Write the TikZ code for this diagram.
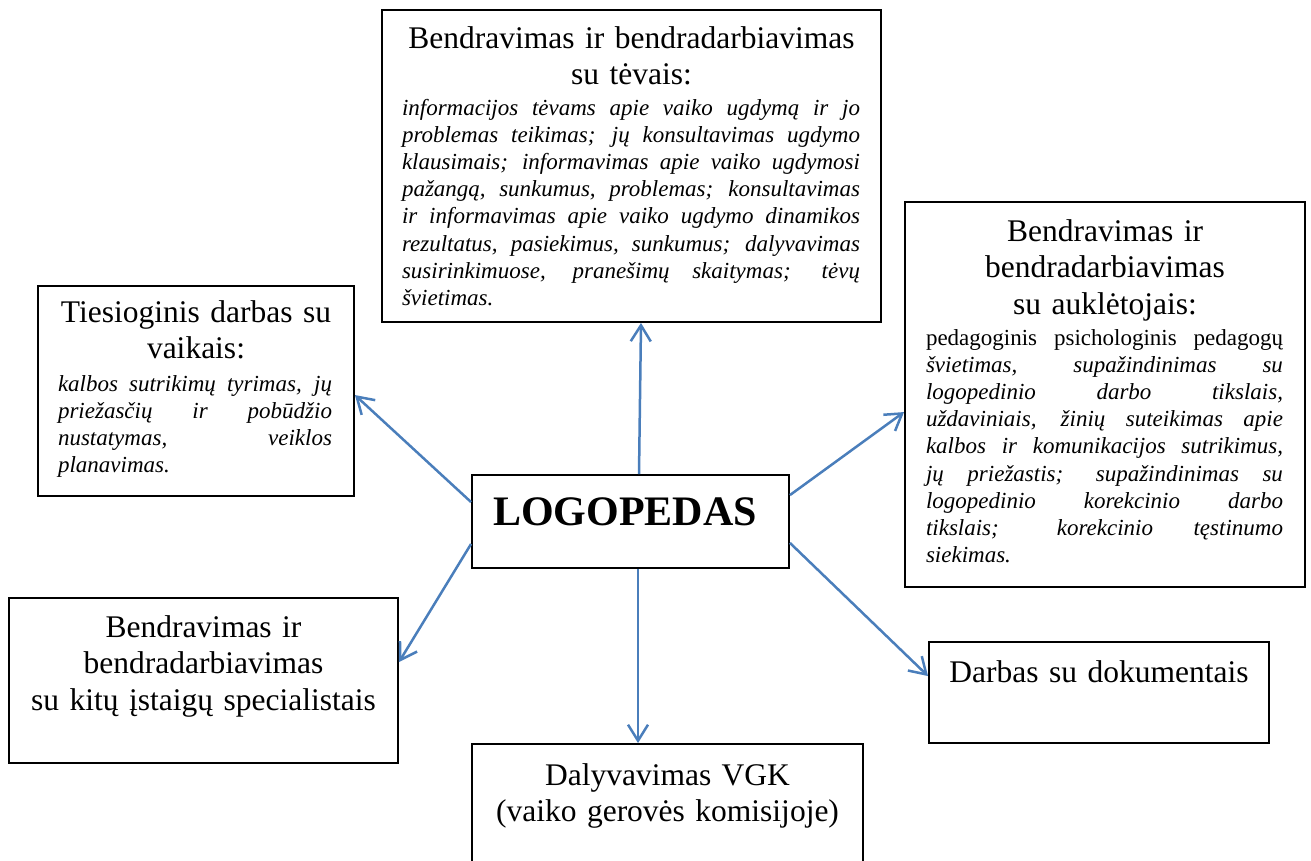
\documentclass[tikz,border=0pt]{standalone}
\usepackage{fontspec}
\setmainfont{Liberation Serif}
\usetikzlibrary{arrows.meta}
\definecolor{arrblue}{HTML}{4A7EBB}
\newcommand{\jline}[1]{{\spaceskip=0pt\relax\xspaceskip=0pt\relax\makebox[\linewidth][s]{#1}}}
\newcommand{\titlefont}{\fontsize{31.5}{36.5}\selectfont}
\newcommand{\bodyfont}{\fontsize{23}{27.2}\selectfont\itshape}
\begin{document}
\begin{tikzpicture}[x=1pt,y=-1pt,
  box/.style={draw=black, line width=1.9pt, rectangle, inner sep=0pt, fill=white},
  ttl/.style={anchor=base, inner sep=0pt, align=center, font=\titlefont},
  bdy/.style={anchor=base, inner sep=0pt, align=justify, font=\bodyfont},
  arr/.style={draw=arrblue, line width=2.5pt, -{Straight Barb[length=16pt,width=20pt]}}]
\useasboundingbox (0,0) rectangle (1311,860);
\clip (0,0) rectangle (1311,860);
% boxes
\node[box, minimum width=499pt, minimum height=312pt] (top) at (631.5,166) {};
\node[box, minimum width=400pt, minimum height=385pt] (right) at (1105,394.5) {};
\node[box, minimum width=316pt, minimum height=210pt] (left) at (196,391) {};
\node[box, minimum width=317pt, minimum height=93pt] (logo) at (630.5,521.5) {};
\node[box, minimum width=389pt, minimum height=165pt] (lbot) at (203.5,680.5) {};
\node[box, minimum width=391pt, minimum height=136pt] (bot) at (667.5,812) {};
\node[box, minimum width=340pt, minimum height=101pt] (rbot) at (1099,692.5) {};
% texts
\node[ttl, text width=490pt] (topT) at (631.5,48) {Bendravimas ir bendradarbiavimas\\su tėvais:};
\node[bdy, text width=458pt] (topB) at (631,115) {%
\jline{informacijos tėvams apie vaiko ugdymą ir jo}\\
\jline{problemas teikimas; jų konsultavimas ugdymo}\\
\jline{klausimais; informavimas apie vaiko ugdymosi}\\
\jline{pažangą, sunkumus, problemas; konsultavimas}\\
\jline{ir informavimas apie vaiko ugdymo dinamikos}\\
\jline{rezultatus, pasiekimus, sunkumus; dalyvavimas}\\
\jline{susirinkimuose, pranešimų skaitymas; tėvų}\\
švietimas.};
\node[ttl, text width=390pt] (rightT) at (1105,241) {Bendravimas ir\\bendradarbiavimas\\su auklėtojais:};
\node[bdy, text width=357pt] (rightB) at (1104.5,345) {%
\jline{\upshape pedagoginis psichologinis pedagogų}\\
\jline{švietimas, supažindinimas su}\\
\jline{logopedinio darbo tikslais,}\\
\jline{uždaviniais, žinių suteikimas apie}\\
\jline{kalbos ir komunikacijos sutrikimus,}\\
\jline{jų priežastis; supažindinimas su}\\
\jline{logopedinio korekcinio darbo}\\
\jline{tikslais; korekcinio tęstinumo}\\
siekimas.};
\node[ttl, text width=310pt] (leftT) at (196,322) {Tiesioginis darbas su\\vaikais:};
\node[bdy, text width=274pt] (leftB) at (195,391) {%
\jline{kalbos sutrikimų tyrimas, jų}\\
\jline{priežasčių ir pobūdžio}\\
\jline{nustatymas, veiklos}\\
planavimas.};
\node[anchor=base, inner sep=0pt, font=\fontsize{42}{48}\selectfont\bfseries] (logoT) at (625,525) {LOGOPEDAS};
\node[ttl, text width=385pt] (lbotT) at (203.5,637) {Bendravimas ir\\bendradarbiavimas\\su kitų įstaigų specialistais};
\node[ttl, text width=385pt] (botT) at (667.5,785) {Dalyvavimas VGK\\(vaiko gerovės komisijoje)};
\node[ttl, text width=335pt] (rbotT) at (1099,682) {Darbas su dokumentais};
% connectors
\draw[arr] ([xshift=8.5pt]logo.north) -- ([xshift=9.5pt]top.south);
\draw[arr] ([xshift=7.5pt]logo.south) -- ([xshift=-29.5pt]bot.north);
\draw[arr] ([yshift=-28pt]logo.north west) -- ([yshift=-110pt]left.north east);
\draw[arr] ([yshift=25pt]logo.south west) -- ([yshift=-65pt]lbot.north east);
\draw[arr] ([yshift=-21pt]logo.north east) -- ([yshift=-211pt]right.north west);
\draw[arr] ([yshift=26pt]logo.south east) -- ([yshift=-35pt]rbot.north west);
\end{tikzpicture}
\end{document}
